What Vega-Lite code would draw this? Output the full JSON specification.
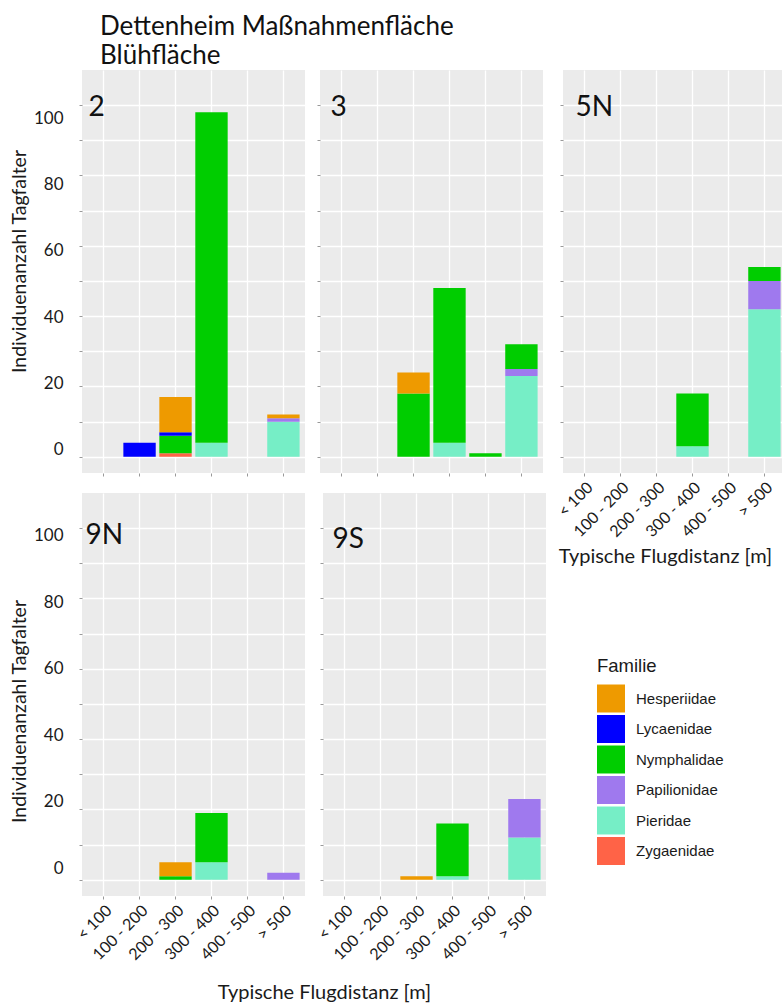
{
  "$schema": "https://vega.github.io/schema/vega-lite/v6.json",
  "background": "white",
  "padding": {"left": 9, "top": 13, "right": 0, "bottom": 0},
  "title": {"text": ["Dettenheim Maßnahmenfläche", "Blühfläche"], "anchor": "start", "dx": 91, "offset": -20, "baseline": "alphabetic", "font": "Lato", "fontSize": 26, "fontWeight": "normal", "color": "#111111", "lineHeight": 29.5},
  "datasets": {
    "d": [
      {"site": "2", "dist": "100 - 200", "family": "Lycaenidae", "n": 4},
      {"site": "2", "dist": "200 - 300", "family": "Zygaenidae", "n": 1},
      {"site": "2", "dist": "200 - 300", "family": "Nymphalidae", "n": 5},
      {"site": "2", "dist": "200 - 300", "family": "Lycaenidae", "n": 1},
      {"site": "2", "dist": "200 - 300", "family": "Hesperiidae", "n": 10},
      {"site": "2", "dist": "300 - 400", "family": "Pieridae", "n": 4},
      {"site": "2", "dist": "300 - 400", "family": "Nymphalidae", "n": 94},
      {"site": "2", "dist": "> 500", "family": "Pieridae", "n": 10},
      {"site": "2", "dist": "> 500", "family": "Papilionidae", "n": 1},
      {"site": "2", "dist": "> 500", "family": "Hesperiidae", "n": 1},
      {"site": "3", "dist": "200 - 300", "family": "Nymphalidae", "n": 18},
      {"site": "3", "dist": "200 - 300", "family": "Hesperiidae", "n": 6},
      {"site": "3", "dist": "300 - 400", "family": "Pieridae", "n": 4},
      {"site": "3", "dist": "300 - 400", "family": "Nymphalidae", "n": 44},
      {"site": "3", "dist": "400 - 500", "family": "Nymphalidae", "n": 1},
      {"site": "3", "dist": "> 500", "family": "Pieridae", "n": 23},
      {"site": "3", "dist": "> 500", "family": "Papilionidae", "n": 2},
      {"site": "3", "dist": "> 500", "family": "Nymphalidae", "n": 7},
      {"site": "5N", "dist": "300 - 400", "family": "Pieridae", "n": 3},
      {"site": "5N", "dist": "300 - 400", "family": "Nymphalidae", "n": 15},
      {"site": "5N", "dist": "> 500", "family": "Pieridae", "n": 42},
      {"site": "5N", "dist": "> 500", "family": "Papilionidae", "n": 8},
      {"site": "5N", "dist": "> 500", "family": "Nymphalidae", "n": 4},
      {"site": "9N", "dist": "200 - 300", "family": "Nymphalidae", "n": 1},
      {"site": "9N", "dist": "200 - 300", "family": "Hesperiidae", "n": 4},
      {"site": "9N", "dist": "300 - 400", "family": "Pieridae", "n": 5},
      {"site": "9N", "dist": "300 - 400", "family": "Nymphalidae", "n": 14},
      {"site": "9N", "dist": "> 500", "family": "Papilionidae", "n": 2},
      {"site": "9S", "dist": "200 - 300", "family": "Hesperiidae", "n": 1},
      {"site": "9S", "dist": "300 - 400", "family": "Pieridae", "n": 1},
      {"site": "9S", "dist": "300 - 400", "family": "Nymphalidae", "n": 15},
      {"site": "9S", "dist": "> 500", "family": "Pieridae", "n": 12},
      {"site": "9S", "dist": "> 500", "family": "Papilionidae", "n": 11}
    ]
  },
  "data": {"name": "d"},
  "spacing": 8,
  "hconcat": [
    {
      "spacing": 16,
      "vconcat": [
        {
          "spacing": 15,
          "bounds": "flush",
          "hconcat": [
            {
              "width": 223, "height": 403,
              "transform": [{"filter": "datum.site === '2'"}],
              "layer": [
                {
                  "layer": [
                    {
                      "mark": {"type": "bar"},
                      "encoding": {
                        "x": {"field": "dist", "type": "nominal", "scale": {"domain": ["< 100", "100 - 200", "200 - 300", "300 - 400", "400 - 500", "> 500"], "paddingInner": 0.1, "paddingOuter": 0.15}, "axis": {"title": null, "labels": false, "grid": true, "gridColor": "#FFFFFF", "gridWidth": 1.3, "tickSize": 3, "tickColor": "#999999", "domain": false, "bandPosition": 0.5}},
                        "y": {"field": "n", "type": "quantitative", "stack": "zero", "scale": {"domain": [-4.6, 110], "nice": false, "zero": false}, "axis": {"orient": "left", "values": [0, 5, 10, 15, 20, 25, 30, 35, 40, 45, 50, 55, 60, 65, 70, 75, 80, 85, 90, 95, 100, 105], "labels": false, "title": null, "grid": true, "gridColor": "#FFFFFF", "gridWidth": {"condition": {"test": "datum.value % 10 === 0", "value": 1.3}, "value": 0.6}, "tickSize": 3, "tickColor": "#999999", "tickOpacity": {"condition": {"test": "datum.value % 10 === 0", "value": 1}, "value": 0}, "domain": false}},
                        "color": {"field": "family", "type": "nominal", "scale": {"domain": ["Hesperiidae", "Lycaenidae", "Nymphalidae", "Papilionidae", "Pieridae", "Zygaenidae"], "range": ["#EE9A00", "#0000FF", "#00CD00", "#9F79EE", "#76EEC6", "#FF6347"]}, "legend": {"orient": "none", "legendX": 515, "legendY": 587, "title": "Familie", "padding": 0}},
                        "order": {"field": "family", "sort": "descending"}
                      }
                    },
                    {
                      "transform": [{"aggregate": [{"op": "count", "as": "c"}], "groupby": ["site"]}],
                      "mark": {"type": "text", "align": "left", "baseline": "alphabetic", "font": "Lato", "fontSize": 28, "color": "#111111", "dx": 1},
                      "encoding": {"text": {"field": "site"}, "x": {"datum": "< 100", "bandPosition": 0}, "y": {"datum": 96.8, "type": "quantitative"}}
                    }
                  ]
                },
                {
                  "mark": {"type": "point", "opacity": 0},
                  "encoding": {
                    "y": {"field": "n", "type": "quantitative", "scale": {"domain": [-6.93, 114.46], "nice": false, "zero": false}, "axis": {"orient": "left", "values": [0, 20, 40, 60, 80, 100], "grid": false, "ticks": false, "tickSize": 0, "domain": false, "labelPadding": 19, "labelFontSize": 17, "labelOverlap": false, "title": "Individuenanzahl Tagfalter", "titleFontSize": 19.5, "titleX": -63, "titleY": 191, "titleBaseline": "middle", "titleAngle": -90}}
                  }
                }
              ],
              "resolve": {"scale": {"y": "independent"}}
            },
            {
              "width": 223, "height": 403,
              "transform": [{"filter": "datum.site === '3'"}],
              "layer": [
                {
                  "mark": {"type": "bar"},
                  "encoding": {
                    "x": {"field": "dist", "type": "nominal", "scale": {"domain": ["< 100", "100 - 200", "200 - 300", "300 - 400", "400 - 500", "> 500"], "paddingInner": 0.1, "paddingOuter": 0.15}, "axis": {"title": null, "labels": false, "grid": true, "gridColor": "#FFFFFF", "gridWidth": 1.3, "tickSize": 3, "tickColor": "#999999", "domain": false, "bandPosition": 0.5}},
                    "y": {"field": "n", "type": "quantitative", "stack": "zero", "scale": {"domain": [-4.6, 110], "nice": false, "zero": false}, "axis": {"orient": "left", "values": [0, 5, 10, 15, 20, 25, 30, 35, 40, 45, 50, 55, 60, 65, 70, 75, 80, 85, 90, 95, 100, 105], "labels": false, "title": null, "grid": true, "gridColor": "#FFFFFF", "gridWidth": {"condition": {"test": "datum.value % 10 === 0", "value": 1.3}, "value": 0.6}, "tickSize": 3, "tickColor": "#999999", "tickOpacity": {"condition": {"test": "datum.value % 10 === 0", "value": 1}, "value": 0}, "domain": false}},
                    "color": {"field": "family", "type": "nominal", "scale": {"domain": ["Hesperiidae", "Lycaenidae", "Nymphalidae", "Papilionidae", "Pieridae", "Zygaenidae"], "range": ["#EE9A00", "#0000FF", "#00CD00", "#9F79EE", "#76EEC6", "#FF6347"]}, "legend": {"orient": "none", "legendX": 515, "legendY": 587, "title": "Familie", "padding": 0}},
                    "order": {"field": "family", "sort": "descending"}
                  }
                },
                {
                  "transform": [{"aggregate": [{"op": "count", "as": "c"}], "groupby": ["site"]}],
                  "mark": {"type": "text", "align": "left", "baseline": "alphabetic", "font": "Lato", "fontSize": 28, "color": "#111111", "dx": 5},
                  "encoding": {"text": {"field": "site"}, "x": {"datum": "< 100", "bandPosition": 0}, "y": {"datum": 96.8, "type": "quantitative"}}
                }
              ]
            }
          ]
        },
        {
          "spacing": 18,
          "bounds": "flush",
          "title": {"text": "Typische Flugdistanz [m]", "orient": "bottom", "anchor": "middle", "dx": 47, "offset": 20, "font": "Lato", "fontSize": 20, "fontWeight": "normal", "color": "#1a1a1a"},
          "hconcat": [
            {
              "width": 223, "height": 403,
              "transform": [{"filter": "datum.site === '9N'"}],
              "layer": [
                {
                  "layer": [
                    {
                      "mark": {"type": "bar"},
                      "encoding": {
                        "x": {"field": "dist", "type": "nominal", "scale": {"domain": ["< 100", "100 - 200", "200 - 300", "300 - 400", "400 - 500", "> 500"], "paddingInner": 0.1, "paddingOuter": 0.15}, "axis": {"title": null, "labels": true, "labelAngle": -45, "labelAlign": "right", "labelBaseline": "top", "labelFontSize": 16, "labelPadding": 3, "grid": true, "gridColor": "#FFFFFF", "gridWidth": 1.3, "tickSize": 3, "tickColor": "#999999", "domain": false, "bandPosition": 0.5}},
                        "y": {"field": "n", "type": "quantitative", "stack": "zero", "scale": {"domain": [-4.6, 110], "nice": false, "zero": false}, "axis": {"orient": "left", "values": [0, 5, 10, 15, 20, 25, 30, 35, 40, 45, 50, 55, 60, 65, 70, 75, 80, 85, 90, 95, 100, 105], "labels": false, "title": null, "grid": true, "gridColor": "#FFFFFF", "gridWidth": {"condition": {"test": "datum.value % 10 === 0", "value": 1.3}, "value": 0.6}, "tickSize": 3, "tickColor": "#999999", "tickOpacity": {"condition": {"test": "datum.value % 10 === 0", "value": 1}, "value": 0}, "domain": false}},
                        "color": {"field": "family", "type": "nominal", "scale": {"domain": ["Hesperiidae", "Lycaenidae", "Nymphalidae", "Papilionidae", "Pieridae", "Zygaenidae"], "range": ["#EE9A00", "#0000FF", "#00CD00", "#9F79EE", "#76EEC6", "#FF6347"]}, "legend": {"orient": "none", "legendX": 515, "legendY": 587, "title": "Familie", "padding": 0}},
                        "order": {"field": "family", "sort": "descending"}
                      }
                    },
                    {
                      "transform": [{"aggregate": [{"op": "count", "as": "c"}], "groupby": ["site"]}],
                      "mark": {"type": "text", "align": "left", "baseline": "alphabetic", "font": "Lato", "fontSize": 28, "color": "#111111", "dx": -2},
                      "encoding": {"text": {"field": "site"}, "x": {"datum": "< 100", "bandPosition": 0}, "y": {"datum": 95.5, "type": "quantitative"}}
                    }
                  ]
                },
                {
                  "mark": {"type": "point", "opacity": 0},
                  "encoding": {
                    "y": {"field": "n", "type": "quantitative", "scale": {"domain": [-8.34, 112.94], "nice": false, "zero": false}, "axis": {"orient": "left", "values": [0, 20, 40, 60, 80, 100], "grid": false, "ticks": false, "tickSize": 0, "domain": false, "labelPadding": 19, "labelFontSize": 17, "labelOverlap": false, "title": "Individuenanzahl Tagfalter", "titleFontSize": 19.5, "titleX": -63, "titleY": 218, "titleBaseline": "middle", "titleAngle": -90}}
                  }
                }
              ],
              "resolve": {"scale": {"y": "independent"}}
            },
            {
              "width": 223, "height": 403,
              "transform": [{"filter": "datum.site === '9S'"}],
              "layer": [
                {
                  "mark": {"type": "bar"},
                  "encoding": {
                    "x": {"field": "dist", "type": "nominal", "scale": {"domain": ["< 100", "100 - 200", "200 - 300", "300 - 400", "400 - 500", "> 500"], "paddingInner": 0.1, "paddingOuter": 0.15}, "axis": {"title": null, "labels": true, "labelAngle": -45, "labelAlign": "right", "labelBaseline": "top", "labelFontSize": 16, "labelPadding": 3, "grid": true, "gridColor": "#FFFFFF", "gridWidth": 1.3, "tickSize": 3, "tickColor": "#999999", "domain": false, "bandPosition": 0.5}},
                    "y": {"field": "n", "type": "quantitative", "stack": "zero", "scale": {"domain": [-4.6, 110], "nice": false, "zero": false}, "axis": {"orient": "left", "values": [0, 5, 10, 15, 20, 25, 30, 35, 40, 45, 50, 55, 60, 65, 70, 75, 80, 85, 90, 95, 100, 105], "labels": false, "title": null, "grid": true, "gridColor": "#FFFFFF", "gridWidth": {"condition": {"test": "datum.value % 10 === 0", "value": 1.3}, "value": 0.6}, "tickSize": 3, "tickColor": "#999999", "tickOpacity": {"condition": {"test": "datum.value % 10 === 0", "value": 1}, "value": 0}, "domain": false}},
                    "color": {"field": "family", "type": "nominal", "scale": {"domain": ["Hesperiidae", "Lycaenidae", "Nymphalidae", "Papilionidae", "Pieridae", "Zygaenidae"], "range": ["#EE9A00", "#0000FF", "#00CD00", "#9F79EE", "#76EEC6", "#FF6347"]}, "legend": {"orient": "none", "legendX": 515, "legendY": 587, "title": "Familie", "padding": 0}},
                    "order": {"field": "family", "sort": "descending"}
                  }
                },
                {
                  "transform": [{"aggregate": [{"op": "count", "as": "c"}], "groupby": ["site"]}],
                  "mark": {"type": "text", "align": "left", "baseline": "alphabetic", "font": "Lato", "fontSize": 28, "color": "#111111", "dx": 4},
                  "encoding": {"text": {"field": "site"}, "x": {"datum": "< 100", "bandPosition": 0}, "y": {"datum": 94.4, "type": "quantitative"}}
                }
              ]
            }
          ]
        }
      ]
    },
    {
      "width": 219, "height": 403,
      "transform": [{"filter": "datum.site === '5N'"}],
      "layer": [
        {
          "mark": {"type": "bar", "clip": true},
          "encoding": {
            "x": {"field": "dist", "type": "nominal", "scale": {"domain": ["< 100", "100 - 200", "200 - 300", "300 - 400", "400 - 500", "> 500"], "paddingInner": 0.1, "paddingOuter": 0.15, "range": [0, 223]}, "axis": {"title": "Typische Flugdistanz [m]", "titleFontSize": 20, "titleX": 102, "titleY": 89, "titleBaseline": "alphabetic", "labels": true, "labelAngle": -45, "labelAlign": "right", "labelBaseline": "top", "labelFontSize": 16, "labelPadding": 3, "grid": true, "gridColor": "#FFFFFF", "gridWidth": 1.3, "tickSize": 3, "tickColor": "#999999", "domain": false, "bandPosition": 0.5}},
            "y": {"field": "n", "type": "quantitative", "stack": "zero", "scale": {"domain": [-4.6, 110], "nice": false, "zero": false}, "axis": {"orient": "left", "values": [0, 5, 10, 15, 20, 25, 30, 35, 40, 45, 50, 55, 60, 65, 70, 75, 80, 85, 90, 95, 100, 105], "labels": false, "title": null, "grid": true, "gridColor": "#FFFFFF", "gridWidth": {"condition": {"test": "datum.value % 10 === 0", "value": 1.3}, "value": 0.6}, "tickSize": 3, "tickColor": "#999999", "tickOpacity": {"condition": {"test": "datum.value % 10 === 0", "value": 1}, "value": 0}, "domain": false}},
            "color": {"field": "family", "type": "nominal", "scale": {"domain": ["Hesperiidae", "Lycaenidae", "Nymphalidae", "Papilionidae", "Pieridae", "Zygaenidae"], "range": ["#EE9A00", "#0000FF", "#00CD00", "#9F79EE", "#76EEC6", "#FF6347"]}, "legend": {"orient": "none", "legendX": 515, "legendY": 587, "title": "Familie", "padding": 0}},
            "order": {"field": "family", "sort": "descending"}
          }
        },
        {
          "transform": [{"aggregate": [{"op": "count", "as": "c"}], "groupby": ["site"]}],
          "mark": {"type": "text", "align": "left", "baseline": "alphabetic", "font": "Lato", "fontSize": 28, "color": "#111111", "dx": 7},
          "encoding": {"text": {"field": "site"}, "x": {"datum": "< 100", "bandPosition": 0}, "y": {"datum": 96.8, "type": "quantitative"}}
        }
      ]
    }
  ],
  "config": {
    "view": {"fill": "#EBEBEB", "stroke": null},
    "axis": {"labelFont": "Lato", "titleFont": "Lato", "labelColor": "#1a1a1a", "titleColor": "#1a1a1a", "titleFontWeight": "normal"},
    "legend": {"titleFont": "Liberation Sans", "titleFontSize": 18.5, "titleFontWeight": "normal", "titleColor": "#1a1a1a", "titlePadding": 9, "labelFont": "Liberation Sans", "labelFontSize": 15, "labelColor": "#1a1a1a", "labelOffset": 11, "symbolType": "square", "symbolSize": 784, "symbolStrokeWidth": 0, "symbolOpacity": 1, "rowPadding": 2.5}
  }
}
